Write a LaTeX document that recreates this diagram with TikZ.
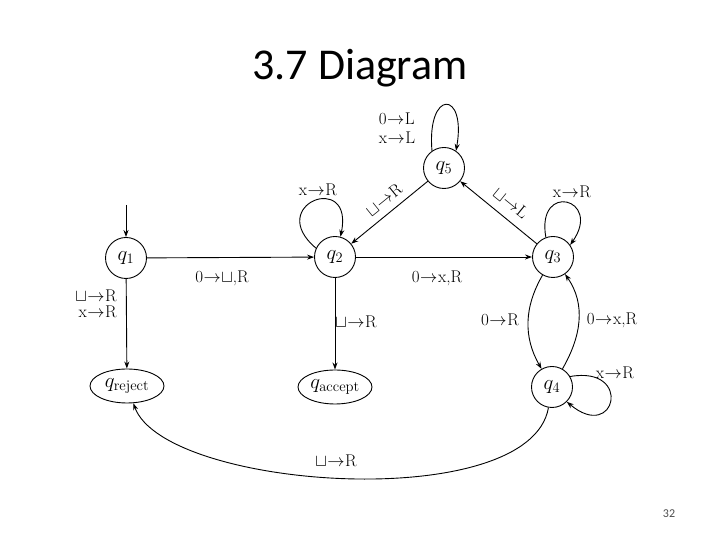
\documentclass[tikz,border=0pt]{standalone}
\usepackage{fontspec}
\newfontfamily\carlitofont{Carlito}
\usetikzlibrary{arrows.meta,shapes.geometric}
\newcommand\tmto{\kern0.5pt$\to$\kern0.5pt}
\newcommand\tmbk{$\sqcup$}
\begin{document}
\begin{tikzpicture}[x=1pt,y=1pt,
  st/.style={circle,draw,line width=0.9pt,minimum size=41pt,inner sep=0pt,font=\fontsize{21}{24}\selectfont},
  hst/.style={ellipse,draw,line width=0.9pt,minimum width=74pt,minimum height=34pt,inner sep=0pt,font=\fontsize{21}{24}\selectfont},
  tr/.style={draw,line width=0.9pt,-{Stealth[length=7pt,width=5pt]}},
  lab/.style={font=\fontsize{17}{20}\selectfont,inner sep=1pt},
  ttl/.style={font=\carlitofont\fontsize{44}{50}\selectfont,inner sep=0pt},
  pgn/.style={font=\carlitofont\fontsize{12}{14}\selectfont,inner sep=0pt,text=black!70}
]
\useasboundingbox (0,0) rectangle (720,540);
\node[ttl] (title) at (360,472) {3.7 Diagram};
\node[pgn] (pnum) at (669,26) {32};

\node[st] (q1) at (126,282) {$q_1$};
\node[st] (q2) at (335,283) {$q_2$};
\node[st] (q3) at (553,283) {$q_3$};
\node[st] (q5) at (444,372) {$q_5$};
\node[st] (q4) at (552,153) {$q_4$};
\node[hst] (qrej) at (127,154) {$q_{\mathrm{reject}}$};
\node[hst] (qacc) at (335,153) {$q_{\mathrm{accept}}$};
\coordinate (start) at (126,335);

\draw[tr] (start) -- (q1);
\draw[tr] (q1) -- (q2);
\draw[tr] (q2) -- (q3);
\draw[tr] (q3) -- (q5);
\draw[tr] (q5) -- (q2);
\draw[tr] (q1) -- (qrej);
\draw[tr] (q2) -- (qacc);
\draw[tr] (q5.125) .. controls +(95:62) and +(80:62) .. (q5.55);
\draw[tr] (q2.155) .. controls +(140:68) and +(78:68) .. (q2.75);
\draw[tr] (q3.110) .. controls +(100:57) and +(55:57) .. (q3.35);
\draw[tr] (q4.30) .. controls +(10:64) and +(-40:64) .. (q4.-45);
\draw[tr] (q3) to[out=240,in=120] (q4);
\draw[tr] (q4) to[out=60,in=-55] (q3);
\draw[tr] (q4) .. controls (530,25) and (165,50) .. (qrej);

\node[lab] (l12) at (222,262) {0\tmto\tmbk,R};
\node[lab] (l23) at (437,262) {0\tmto x,R};
\node[lab,align=right,anchor=east] (l1r) at (118,236) {\tmbk\tmto R\\[-4pt]x\tmto R};
\node[lab] (l2a) at (356,218) {\tmbk\tmto R};
\node[lab] (l34) at (500,220) {0\tmto R};
\node[lab] (l43) at (612,220) {0\tmto x,R};
\node[lab] (l44) at (615,167) {x\tmto R};
\node[lab] (l4r) at (336,79) {\tmbk\tmto R};
\node[lab,align=left] (l55) at (397,412) {0\tmto L\\[-1pt]x\tmto L};
\node[lab] (l22) at (318,350) {x\tmto R};
\node[lab] (l33) at (572,348) {x\tmto R};
\node[lab,rotate=39] (l52) at (384,340) {\tmbk\tmto R};
\node[lab,rotate=-39] (l35) at (511,337) {\tmbk\tmto L};
\end{tikzpicture}
\end{document}
